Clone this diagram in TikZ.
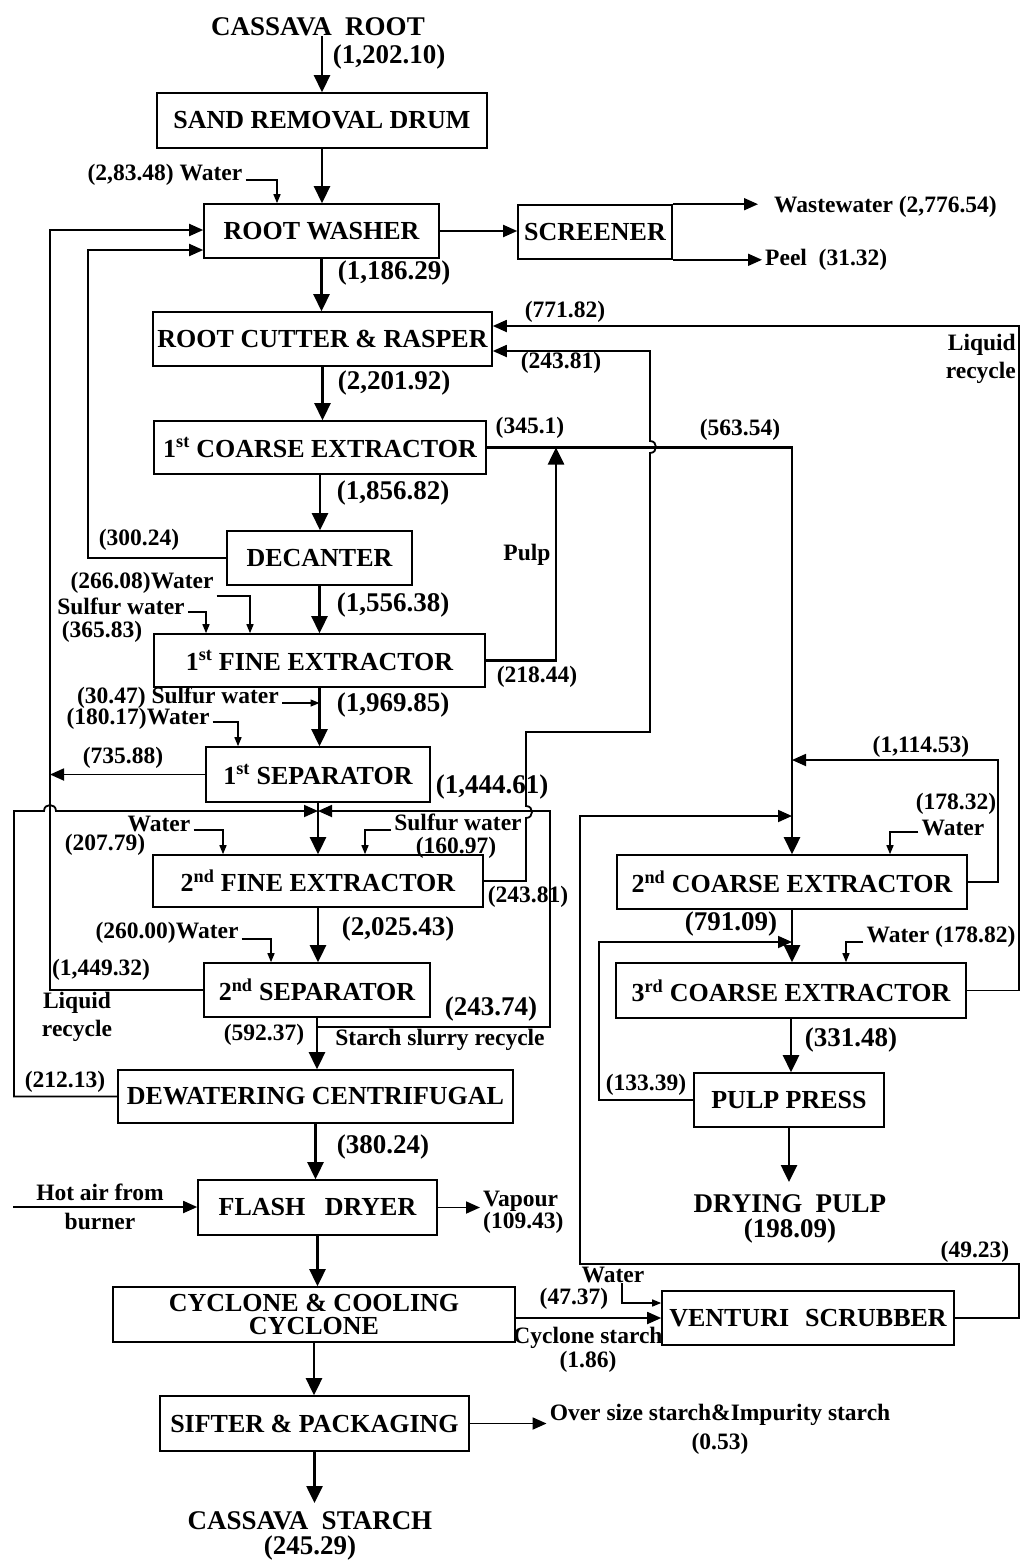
\documentclass[tikz,border=0pt]{standalone}
\usepackage{fontspec}
\setmainfont{Liberation Serif}
\usetikzlibrary{arrows.meta}
\newcommand\SmFnt{\fontsize{23.5}{28}\selectfont\bfseries}
\newcommand\BigFnt{\fontsize{27}{25}\selectfont\bfseries}
\newcommand\BoxFnt{\fontsize{26}{23}\selectfont\bfseries}
\begin{document}
\begin{tikzpicture}[x=1pt,y=-1pt,
  box/.style={draw,line width=1.6pt,inner sep=0pt,font=\BoxFnt,align=center},
  lab/.style={inner xsep=3pt,inner ysep=0pt,font=\SmFnt},
  big/.style={inner xsep=3pt,inner ysep=0pt,font=\BigFnt},
  main/.style={line width=2.6pt,-{Triangle[length=17pt,width=16pt]}},
  rec/.style={line width=1.8pt,-{Triangle[length=14pt,width=12pt]}},
  feed/.style={line width=1.4pt,-{Triangle[length=9pt,width=7pt]}},
]
\useasboundingbox (0,0) rectangle (1022,1560);
\fill[white] (0,0) rectangle (1022,1560);

% boxes
\node[box,minimum width=330pt,minimum height=55pt] (srd) at (322,120.5) {SAND REMOVAL DRUM};
\node[box,minimum width=235pt,minimum height=54pt] (rw) at (321.5,231) {ROOT WASHER};
\node[box,minimum width=154pt,minimum height=54pt] (scr) at (595,232) {SCREENER};
\node[box,minimum width=339pt,minimum height=54pt] (rcr) at (322.5,339) {ROOT CUTTER \& RASPER};
\node[box,minimum width=332pt,minimum height=53pt] (ce1) at (320,447.5) {1\textsuperscript{st} COARSE EXTRACTOR};
\node[box,minimum width=185pt,minimum height=54pt] (dec) at (319.5,558) {DECANTER};
\node[box,minimum width=331pt,minimum height=53pt] (fe1) at (319.5,660.5) {1\textsuperscript{st} FINE EXTRACTOR};
\node[box,minimum width=224pt,minimum height=55pt] (sep1) at (318,774.5) {1\textsuperscript{st} SEPARATOR};
\node[box,minimum width=330pt,minimum height=52pt] (fe2) at (318,881) {2\textsuperscript{nd} FINE EXTRACTOR};
\node[box,minimum width=226pt,minimum height=54pt] (sep2) at (317,990) {2\textsuperscript{nd} SEPARATOR};
\node[box,minimum width=395pt,minimum height=53pt] (dew) at (315.5,1096.5) {DEWATERING CENTRIFUGAL};
\node[box,minimum width=239pt,minimum height=55pt] (fd) at (317.5,1207.5) {FLASH\ \ \ DRYER};
\node[box,minimum width=402pt,minimum height=55pt] (cyc) at (314,1314.5) {CYCLONE \& COOLING\\CYCLONE};
\node[box,minimum width=309pt,minimum height=55pt] (sif) at (314.5,1423.5) {SIFTER \& PACKAGING};
\node[box,minimum width=350pt,minimum height=54pt] (ce2) at (792,882) {2\textsuperscript{nd} COARSE EXTRACTOR};
\node[box,minimum width=350pt,minimum height=55pt] (ce3) at (791,990.5) {3\textsuperscript{rd} COARSE EXTRACTOR};
\node[box,minimum width=190pt,minimum height=54pt] (pp) at (789,1100) {PULP PRESS};
\node[box,minimum width=292pt,minimum height=54pt] (vs) at (808,1318) {VENTURI\hspace{16pt}SCRUBBER};

% labels
\node[big] (root) at (318,27) {CASSAVA\ \ ROOT};
\node[big] (q1) at (389,57) {(1,202.10)};
\node[lab] (w1) at (165,175) {(2,83.48) Water};
\node[lab,anchor=west] (ww) at (771,207) {Wastewater (2,776.54)};
\node[lab,anchor=west] (peel) at (762,260) {Peel\ \ (31.32)};
\node[big] (q2) at (394,273) {(1,186.29)};
\node[lab] (q3) at (565,312) {(771.82)};
\node[lab] (q4) at (561,363) {(243.81)};
\node[lab,anchor=east,align=right,font=\fontsize{23.5}{28}\selectfont\bfseries] (lr1) at (1019,358.5) {Liquid\\recycle};
\node[big] (q5) at (394,383) {(2,201.92)};
\node[lab] (q6) at (530,428) {(345.1)};
\node[lab] (q7) at (740,430) {(563.54)};
\node[big] (q8) at (393,493) {(1,856.82)};
\node[lab] (q9) at (139,540) {(300.24)};
\node[lab] (pulp) at (527,555) {Pulp};
\node[lab] (w2) at (142,583) {(266.08)Water};
\node[big] (q10) at (393,605) {(1,556.38)};
\node[lab] (sw1) at (121,606) {Sulfur water};
\node[lab] (q11) at (102,632) {(365.83)};
\node[lab] (q12) at (537,677) {(218.44)};
\node[lab] (sw2) at (178,698) {(30.47) Sulfur water};
\node[big] (q13) at (393,705) {(1,969.85)};
\node[lab] (w3) at (138,719) {(180.17)Water};
\node[lab] (q14) at (921,747) {(1,114.53)};
\node[lab] (q15) at (123,758) {(735.88)};
\node[big] (q16) at (492,787) {(1,444.61)};
\node[lab] (q17) at (956,804) {(178.32)};
\node[lab] (w6) at (953,828) {Water};
\node[lab] (w4) at (159,824) {Water};
\node[lab] (q18) at (105,845) {(207.79)};
\node[lab] (sw3) at (458,822) {Sulfur water};
\node[lab] (q19) at (456,848) {(160.97)};
\node[lab] (q20) at (528,897) {(243.81)};
\node[big] (q21) at (731,924) {(791.09)};
\node[big] (q22) at (398,929) {(2,025.43)};
\node[lab] (w5) at (167,933) {(260.00)Water};
\node[lab] (w7) at (941,937) {Water (178.82)};
\node[lab] (q23) at (101,970) {(1,449.32)};
\node[big] (q24) at (491,1009) {(243.74)};
\node[lab,align=center,font=\fontsize{23.5}{28}\selectfont\bfseries] (lr2) at (77,1017) {Liquid\\recycle};
\node[lab] (q25) at (264,1035) {(592.37)};
\node[lab] (ssr) at (440,1040) {Starch slurry recycle};
\node[big] (q26) at (851,1040) {(331.48)};
\node[lab] (q27) at (65,1082) {(212.13)};
\node[lab] (q28) at (646,1085) {(133.39)};
\node[big] (q29) at (383,1147) {(380.24)};
\node[lab,align=center,font=\fontsize{23.5}{29}\selectfont\bfseries] (hot) at (100,1206.5) {Hot air from\\burner};
\node[lab,anchor=west,align=left,font=\fontsize{23.5}{22}\selectfont\bfseries] (vap) at (480,1212.5) {Vapour\\(109.43)};
\node[big,align=center] (dp) at (790,1218.5) {DRYING\ \ PULP\\(198.09)};
\node[lab] (q30) at (975,1252) {(49.23)};
\node[lab] (w8) at (613,1275) {Water};
\node[lab] (q31) at (574,1299) {(47.37)};
\node[lab,align=center,font=\fontsize{23.5}{24}\selectfont\bfseries] (cs) at (588,1349.5) {Cyclone starch\\(1.86)};
\node[lab,align=center,font=\fontsize{23.5}{29}\selectfont\bfseries] (os) at (720,1429) {Over size starch\&Impurity starch\\(0.53)};
\node[big,align=center] (st) at (310,1535.5) {CASSAVA\ \ STARCH\\(245.29)};

\coordinate (j1) at (318,811);
\coordinate (j2) at (317,1027);
\coordinate (hotin) at (13,1207);

% main column
\draw[main] (root.south -| srd.north) -- (srd.north);
\draw[main] (srd.south) -- (srd.south |- rw.north);
\draw[main] (rw.south) -- (rw.south |- rcr.north);
\draw[main] (rcr.south) -- (rcr.south |- ce1.north);
\draw[main] (ce1.south) -- (ce1.south |- dec.north);
\draw[main] (dec.south) -- (dec.south |- fe1.north);
\draw[main] (fe1.south) -- (fe1.south |- sep1.north);
\draw[main] (sep1.south) -- (sep1.south |- fe2.north);
\draw[main] (fe2.south) -- (fe2.south |- sep2.north);
\draw[main] (sep2.south) -- (sep2.south |- dew.north);
\draw[main] (dew.south) -- (dew.south |- fd.north);
\draw[main] (fd.south) -- (fd.south |- cyc.north);
\draw[main] (cyc.south) -- (cyc.south |- sif.north);
\draw[main] (sif.south) -- ([yshift=8pt]sif.south |- st.north);

% right column
\draw[main] (ce1.east) -| (ce2.north);
\draw[main] (ce2.south) -- (ce2.south |- ce3.north);
\draw[main] (ce3.south) -- (ce3.south |- pp.north);
\draw[main] (pp.south) -- ([yshift=12pt]pp.south |- dp.north);
\draw[main] (fe1.east) -| (ce1.east -| 556,0);

% screener
\draw[rec] (rw.east) -- (rw.east -| scr.west);
\draw[rec,shorten >=13pt] (scr.north east) -- (scr.north east -| ww.west);
\draw[rec] (scr.south east) -- (scr.south east -| peel.west);

% recycles
\draw[rec] (sep2.west) -| (50,230) -- ([yshift=1pt]rw.west);
\draw[rec] (sep1.west) -- (sep1.west -| 50,0);
\draw[rec] (dec.west) -| (88,250) -- ([yshift=-19pt]rw.west);
\draw[rec] (dew.west) -| (14,811) -- (44,811) .. controls (44,803) and (56,803) .. (56,811) -- (j1);
\draw[rec] (j2) -| (550,811) -- (j1);
\draw[rec] (fe2.east) -| (526,818) .. controls (534,818) and (534,806) .. (526,806) -- (526,732) -| (650,453) .. controls (658,453) and (658,441) .. (650,441) -- (650,351) -- ([yshift=-12pt]rcr.east);
\draw[rec] (ce3.east) -| (1019,326) -- ([yshift=13pt]rcr.east);
\draw[rec] (ce2.east) -| (998,760) -- (ce2.north |- 0,760);
\draw[rec] (vs.east) -| (1019,1264) -| (580,816) -- (ce2.north |- 0,816);
\draw[rec] (pp.west) -| (599,942) -- (ce2.south |- 0,942);
\draw[rec] (cyc.east |- vs.west) -- (vs.west);
\draw[rec] (hotin) -- (hotin -| fd.west);
\draw[rec] (fd.east) -- (fd.east -| vap.west);
\draw[rec] (sif.east) -- (sif.east -| os.west);

% feeds
\draw[feed] (w1.east |- 0,180) -| (rw.north -| 277,0);
\draw[feed] (w2.east |- 0,596) -| (fe1.north -| 250,0);
\draw[feed] (sw1.east |- 0,612) -| (fe1.north -| 206,0);
\draw[feed] (sw2.east |- 0,703) -- (fe1.south |- 0,703);
\draw[feed] (w3.east |- 0,722) -| (sep1.north -| 238,0);
\draw[feed] (w4.east |- 0,830) -| (fe2.north -| 223,0);
\draw[feed] (sw3.west |- 0,830) -| (fe2.north -| 365,0);
\draw[feed] (w5.east |- 0,939) -| (sep2.north -| 271,0);
\draw[feed] (w6.west |- 0,832) -| (ce2.north -| 890,0);
\draw[feed] (w7.west |- 0,942) -| (ce3.north -| 846,0);
\draw[feed] (w8.south -| 622,0) -- (622,1303) -- ([yshift=15pt]vs.west);
\end{tikzpicture}
\end{document}
